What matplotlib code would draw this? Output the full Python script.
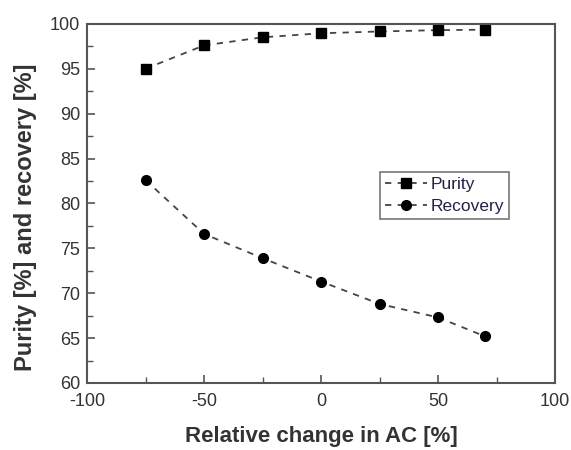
import matplotlib
matplotlib.use("Agg")
import matplotlib.pyplot as plt
from matplotlib.ticker import MultipleLocator

plt.rcParams['font.family'] = ['Liberation Sans', 'DejaVu Sans']
plt.rcParams['axes.unicode_minus'] = False

# values
change = [-75, -50, -25, 0, 25, 50, 70]
purity = [95.0, 97.6, 98.5, 98.95, 99.15, 99.3, 99.35]
recovery = [82.6, 76.6, 73.9, 71.3, 68.8, 67.3, 65.2]

fig = plt.figure(figsize=(5.71, 4.5), dpi=100)
ax = fig.add_axes([0.1524, 0.149, 0.8196, 0.798])

line_kw = dict(ls=(0, (3.5, 3.5)), lw=1.3, color='#444444', mfc='black', mec='black')
ax.plot(change, purity, marker='s', ms=6.5, label='Purity', **line_kw)
ax.plot(change, recovery, marker='o', ms=7, label='Recovery', **line_kw)

ax.set_xlim(-100, 100)
ax.set_ylim(60, 100)
ax.xaxis.set_major_locator(MultipleLocator(50))
ax.xaxis.set_minor_locator(MultipleLocator(25))
ax.yaxis.set_major_locator(MultipleLocator(5))
ax.yaxis.set_minor_locator(MultipleLocator(2.5))
ax.tick_params(which='both', direction='in', color='#555555', labelsize=13,
               labelcolor='#333333', top=False, right=False)
ax.tick_params(which='major', length=6, width=1.2)
ax.tick_params(which='minor', length=4, width=1.0)
ax.tick_params(axis='x', pad=7)
ax.tick_params(axis='y', pad=5)
for s in ax.spines.values():
    s.set_color('#555555')
    s.set_linewidth(1.5)

ax.set_xlabel('Relative change in AC [%]', fontsize=16, fontweight='bold',
              color='#333333', va='center')
ax.set_ylabel('Purity [%] and recovery [%]', fontsize=17, fontweight='bold',
              color='#333333', va='center')
ax.xaxis.set_label_coords(0.5, -0.15)
ax.yaxis.set_label_coords(-0.132, 0.462)

leg = ax.legend(loc='upper left', bbox_to_anchor=(0.626, 0.588), fontsize=12.5,
                frameon=True, fancybox=False, handlelength=2.4, handletextpad=0.2,
                borderpad=0.3, labelspacing=0.4, borderaxespad=0)
leg.get_frame().set_edgecolor('#555555')
leg.get_frame().set_linewidth(1.2)
for t in leg.get_texts():
    t.set_color('#222244')

fig.savefig('out.png', dpi=100)
